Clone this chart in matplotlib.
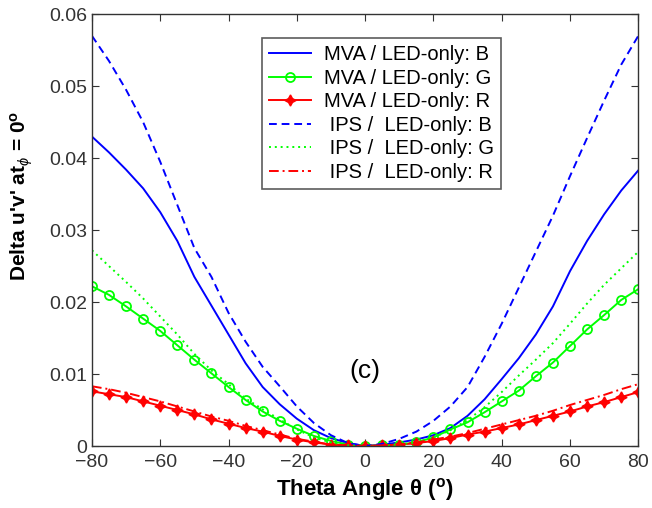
import numpy as np
from matplotlib import pyplot as plt

plt.rcParams['font.family'] = ['Liberation Sans', 'DejaVu Sans']
plt.rcParams['mathtext.fontset'] = 'custom'
plt.rcParams['mathtext.rm'] = 'Liberation Sans'
plt.rcParams['mathtext.it'] = 'Liberation Sans:italic'
plt.rcParams['mathtext.bf'] = 'Liberation Sans:bold'

# theta angle, every 5 degrees
theta = np.arange(-80, 81, 5)

mva_b = [0.0430, 0.0408, 0.0384, 0.0358, 0.0325, 0.0285, 0.0235, 0.0195, 0.0155,
         0.0115, 0.0082, 0.0058, 0.0038, 0.0022, 0.0011, 0.0004, 0.0,
         0.0002, 0.0005, 0.0009, 0.0015, 0.0025, 0.0042, 0.0065, 0.0093,
         0.0122, 0.0155, 0.0194, 0.0243, 0.0285, 0.0322, 0.0355, 0.0383]
mva_g = [0.0222, 0.0210, 0.0194, 0.0177, 0.0160, 0.0140, 0.0120, 0.0101, 0.0082,
         0.0064, 0.0048, 0.0035, 0.0024, 0.0014, 0.0007, 0.0002, 0.0,
         0.0001, 0.0002, 0.0005, 0.0012, 0.0023, 0.0033, 0.0047, 0.0062,
         0.0077, 0.0097, 0.0116, 0.0139, 0.0162, 0.0182, 0.0203, 0.0218]
mva_r = [0.0076, 0.0072, 0.0068, 0.0062, 0.0056, 0.0050, 0.0044, 0.0037, 0.0031,
         0.0025, 0.0020, 0.0014, 0.0009, 0.0005, 0.0002, 0.0001, 0.0,
         0.0001, 0.0002, 0.0004, 0.0007, 0.0011, 0.0016, 0.0020, 0.0025,
         0.0030, 0.0036, 0.0042, 0.0048, 0.0055, 0.0061, 0.0068, 0.0075]
ips_b = [0.0570, 0.0535, 0.0495, 0.0450, 0.0395, 0.0335, 0.0275, 0.0235, 0.0185,
         0.0145, 0.0110, 0.0083, 0.0055, 0.0032, 0.0015, 0.0004, 0.0,
         0.0003, 0.0010, 0.0020, 0.0035, 0.0055, 0.0082, 0.0124, 0.0170,
         0.0220, 0.0270, 0.0320, 0.0375, 0.0428, 0.0480, 0.0530, 0.0570]
ips_g = [0.0272, 0.0250, 0.0228, 0.0205, 0.0180, 0.0155, 0.0128, 0.0105, 0.0086,
         0.0066, 0.0051, 0.0037, 0.0023, 0.0012, 0.0005, 0.0001, 0.0,
         0.0, 0.0002, 0.0005, 0.0012, 0.0022, 0.0036, 0.0054, 0.0075,
         0.0098, 0.0120, 0.0143, 0.0170, 0.0198, 0.0224, 0.0247, 0.0270]
ips_r = [0.0083, 0.0079, 0.0074, 0.0068, 0.0062, 0.0055, 0.0048, 0.0041, 0.0035,
         0.0028, 0.0022, 0.0016, 0.0010, 0.0006, 0.0002, 0.0001, 0.0,
         0.0001, 0.0002, 0.0005, 0.0009, 0.0013, 0.0018, 0.0024, 0.0030,
         0.0036, 0.0042, 0.0049, 0.0057, 0.0064, 0.0071, 0.0079, 0.0086]

labels = ['MVA / LED-only: B', 'MVA / LED-only: G', 'MVA / LED-only: R',
          ' IPS /  LED-only: B', ' IPS /  LED-only: G', ' IPS /  LED-only: R']

fig = plt.figure(figsize=(6.52, 5.08), dpi=100)
ax = fig.add_axes([0.141, 0.122, 0.838, 0.850])

ax.plot(theta, mva_b, color='#0000ff', lw=1.4, label=labels[0])
ax.plot(theta, mva_g, color='#00ff00', lw=1.4, marker='o', ms=6.5,
        mfc='none', mew=1.3, label=labels[1])
ax.plot(theta, mva_r, color='#ff0000', lw=1.4, marker=(4, 1, 0), ms=8,
        label=labels[2])
ax.plot(theta, ips_b, color='#0000ff', lw=1.4, ls=(0, (4, 2.5)), label=labels[3])
ax.plot(theta, ips_g, color='#00ff00', lw=1.4, ls=(0, (1, 2)), label=labels[4])
ax.plot(theta, ips_r, color='#ff0000', lw=1.4, ls=(0, (5, 2, 1, 2)), label=labels[5])

ax.set_xlim(-80, 80)
ax.set_ylim(0, 0.06)
ax.set_xticks(np.arange(-80, 81, 20))
ax.set_yticks(np.arange(0, 0.061, 0.01))
ax.set_yticklabels(['0', '0.01', '0.02', '0.03', '0.04', '0.05', '0.06'])
ax.tick_params(direction='in', top=True, right=True, labelsize=14,
               length=5, colors='#333333', labelcolor='#333333')
ax.tick_params(axis='x', pad=6)
for s in ax.spines.values():
    s.set_color('#333333')
    s.set_linewidth(1.0)

ax.set_xlabel(r'Theta Angle θ ($^\mathbf{o}$)', fontsize=16, fontweight='bold',
              labelpad=3)
ax.set_ylabel(r"Delta u'v' at$_\phi$ = 0$^\mathbf{o}$", fontsize=15,
              fontweight='bold')
ax.yaxis.set_label_coords(-0.105, 0.579)
ax.text(0, 0.0104, '(c)', fontsize=19, ha='center', va='center')

leg = ax.legend(loc='upper left', bbox_to_anchor=(0.311, 0.944), fontsize=14.5,
                frameon=True, fancybox=False, handlelength=2.1,
                labelspacing=0.22, borderpad=0.35, handletextpad=0.65,
                borderaxespad=0)
leg.get_frame().set_edgecolor('#333333')
leg.get_frame().set_linewidth(1.2)

fig.savefig('out.png', dpi=100)
